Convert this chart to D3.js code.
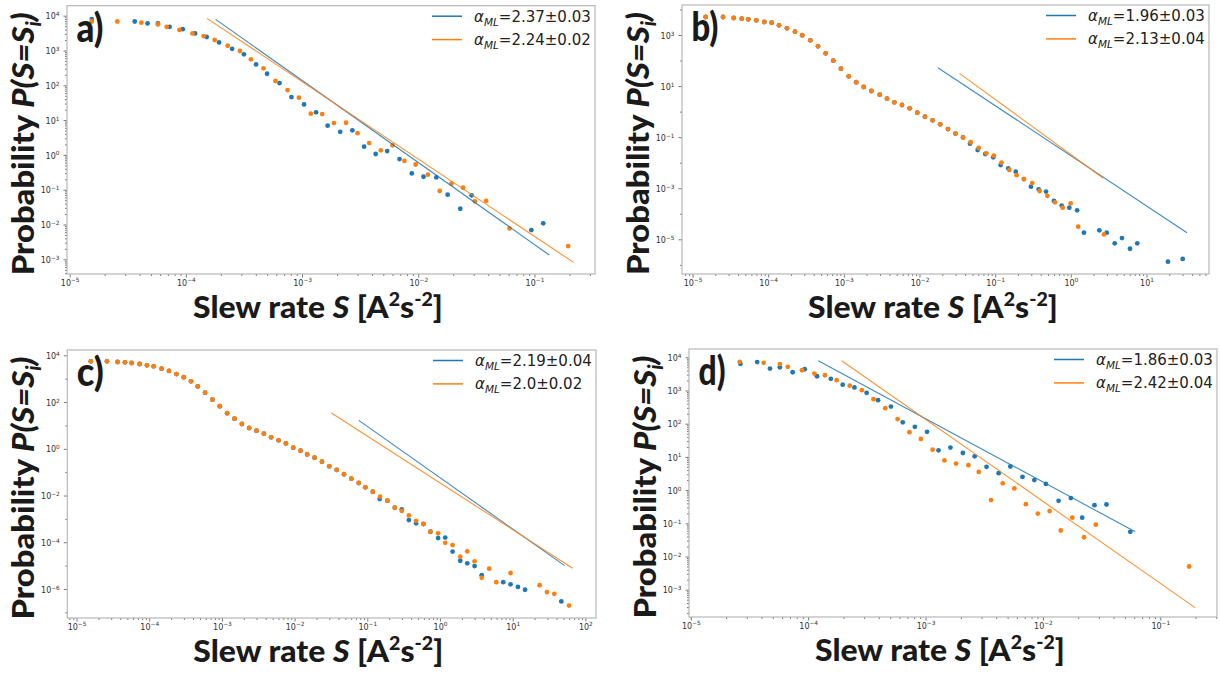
<!DOCTYPE html>
<html>
<head>
<meta charset="utf-8">
<script src="https://cdn.jsdelivr.net/npm/d3@7"></script>
<style>
    body { margin: 0; background: #fff; }
    svg { display: block; }
</style>
</head>
<body>
<div id="SlewCanvas"></div>
<script>
// [S, P] pairs (blue series, orange series)
const a_blue = [[1.55e-5,8.0e3],[3.63e-5,6.8e3],[4.68e-5,6.0e3],[5.75e-5,6.0e3],[7.24e-5,4.8e3],[9.4e-5,4.1e3],[1.2e-4,3.1e3],[1.51e-4,2.44e3],[1.93e-4,1.71e3],[2.5e-4,1.12e3],[3.16e-4,774],[4.02e-4,398],[5.0e-4,215],[6.4e-4,116],[8.1e-4,46],[1.04e-3,28.3],[1.32e-3,16.7],[1.66e-3,6.9],[2.13e-3,4.6],[2.71e-3,5.1],[3.42e-3,1.72],[4.3e-3,1.06],[5.4e-3,1.29],[6.9e-3,0.76],[8.8e-3,0.294],[1.11e-2,0.236],[1.43e-2,0.226],[1.79e-2,0.072],[2.3e-2,0.0284],[2.88e-2,0.069],[9.4e-2,0.0069],[0.119,0.0108]];
const a_orange = [[1.55e-5,6.8e3],[2.57e-5,6.8e3],[4.14e-5,6.3e3],[5.75e-5,5.6e3],[6.84e-5,4.8e3],[8.8e-5,3.9e3],[1.14e-4,3.1e3],[1.42e-4,2.6e3],[1.77e-4,2.0e3],[2.29e-4,1.37e3],[2.92e-4,966],[3.63e-4,556],[4.66e-4,307],[5.9e-4,133],[7.5e-4,73],[9.4e-4,44],[1.19e-3,15.3],[1.49e-3,14.9],[1.88e-3,8.2],[2.39e-3,8.4],[3.0e-3,4.2],[3.78e-3,2.19],[4.76e-3,1.35],[6.0e-3,1.88],[7.6e-3,0.67],[9.5e-3,0.53],[1.21e-2,0.27],[1.53e-2,0.092],[1.93e-2,0.149],[2.43e-2,0.114],[3.07e-2,0.046],[3.84e-2,0.048],[6.1e-2,0.0077],[0.195,0.0024]];

const b_blue = [[1.49e-5,5.07e3],[2.53e-5,5.07e3],[3.5e-5,4.63e3],[4.47e-5,4.37e3],[5.46e-5,4.11e3],[6.97e-5,3.76e3],[8.89e-5,3.23e3],[1.11e-4,3.03e3],[1.39e-4,2.4e3],[1.77e-4,1.82e3],[2.26e-4,1.35e3],[2.82e-4,977],[3.61e-4,617],[4.56e-4,361],[5.75e-4,192],[7.26e-4,98.6],[9.16e-4,47.9],[1.16e-3,24.2],[1.46e-3,14.1],[1.83e-3,9.2],[2.31e-3,6.41],[2.98e-3,4.6],[3.72e-3,3.21],[4.65e-3,2.32],[5.87e-3,1.82],[7.41e-3,1.35],[9.35e-3,0.908],[1.18e-2,0.631],[1.49e-2,0.457],[1.88e-2,0.318],[2.38e-2,0.207],[2.99e-2,0.138],[3.76e-2,0.0977],
    [4.65e-2,5.55e-2],[5.87e-2,3.14e-2],[7.4e-2,2.19e-2],[9.44e-2,1.62e-2],[0.118,8.1e-3],[0.149,6.0e-3],[0.187,4.47e-3],[0.240,2.29e-3],[0.297,1.15e-3],[0.376,9.1e-4],[0.470,7.4e-4],[0.598,3.16e-4],[0.757,2.09e-4],[0.955,1.74e-4],[1.21,1.36e-4],[1.49,1.82e-5],[2.38,2.24e-5],[2.98,1.82e-5],[3.8,6.97e-6],[4.74,1.12e-5],[6.05,4.27e-6],[7.55,6.97e-6],[19.2,1.33e-6],[30.1,1.7e-6]];
const b_orange = [[1.49e-5,5.07e3],[2.53e-5,5.07e3],[3.5e-5,4.63e3],[4.47e-5,4.37e3],[5.46e-5,4.11e3],[6.97e-5,3.76e3],[8.89e-5,3.23e3],[1.11e-4,3.03e3],[1.39e-4,2.4e3],[1.77e-4,1.82e3],[2.26e-4,1.35e3],[2.82e-4,977],[3.61e-4,617],[4.56e-4,361],[5.75e-4,192],[7.26e-4,98.6],[9.16e-4,47.9],[1.16e-3,24.2],[1.46e-3,14.1],[1.83e-3,9.2],[2.31e-3,6.41],[2.98e-3,4.6],[3.72e-3,3.21],[4.65e-3,2.32],[5.87e-3,1.82],[7.41e-3,1.35],[9.35e-3,0.908],[1.18e-2,0.631],[1.49e-2,0.457],[1.88e-2,0.318],[2.38e-2,0.207],[2.99e-2,0.138],[3.76e-2,0.0977],
    [4.74e-2,6.31e-2],[6.05e-2,3.76e-2],[7.64e-2,2.33e-2],[9.64e-2,1.88e-2],[0.121,1.0e-2],[0.154,5.18e-3],[0.192,3.24e-3],[0.240,2.29e-3],[0.309,1.6e-3],[0.387,7.8e-4],[0.489,5.0e-4],[0.618,2.82e-4],[0.78,1.74e-4],[0.995,2.57e-4],[1.25,3.13e-5],[2.74,1.55e-5]];

const c_blue = [[1.57e-5,5.53e3],[2.62e-5,5.53e3],[3.67e-5,5.16e3],[4.63e-5,5.01e3],[5.73e-5,4.68e3],[7.38e-5,4.25e3],[9.31e-5,3.73e3],[1.15e-4,3.39e3],[1.48e-4,2.69e3],[1.87e-4,2.14e3],[2.37e-4,1.58e3],[2.98e-4,1.15e3],[3.76e-4,771],[4.65e-4,468],[5.86e-4,251],[7.41e-4,126],[9.33e-4,66.1],[1.18e-3,33.1],[1.49e-3,19.4],[1.88e-3,11.5],[2.37e-3,7.74],[2.99e-3,5.93],[3.78e-3,4.42],[4.75e-3,3.09],[6.01e-3,2.29],[7.59e-3,1.70],[9.57e-3,1.11],[1.21e-2,0.832],[1.49e-2,0.575],[1.88e-2,0.417],[2.38e-2,0.28],[3.0e-2,0.178],[3.79e-2,0.124],[4.78e-2,8.13e-2],[6.03e-2,5.25e-2],[7.62e-2,3.43e-2],[9.4e-2,2.24e-2],[0.119,1.45e-2],
    [0.148,7.08e-3],[0.189,6.03e-3],[0.239,3.02e-3],[0.298,2.57e-3],[0.373,8.9e-4],[0.469,6.46e-4],[0.592,6.03e-4],[0.738,2.82e-4],[0.942,1.51e-4],[1.18,1.58e-4],[1.49,3.98e-5],[1.90,1.62e-5],[2.37,1.26e-5],[2.99,9.6e-6],[3.75,3.89e-6],[7.41,1.95e-6],[9.35,1.58e-6],[11.8,1.23e-6],[14.8,9.3e-7],[46.7,2.95e-7]];
const c_orange = [[1.57e-5,5.53e3],[2.62e-5,5.53e3],[3.67e-5,5.16e3],[4.63e-5,5.01e3],[5.73e-5,4.68e3],[7.38e-5,4.25e3],[9.31e-5,3.73e3],[1.15e-4,3.39e3],[1.48e-4,2.69e3],[1.87e-4,2.14e3],[2.37e-4,1.58e3],[2.98e-4,1.15e3],[3.76e-4,771],[4.65e-4,468],[5.86e-4,251],[7.41e-4,126],[9.33e-4,66.1],[1.18e-3,33.1],[1.49e-3,19.4],[1.88e-3,11.5],[2.37e-3,7.74],[2.99e-3,5.93],[3.78e-3,4.42],[4.75e-3,3.09],[6.01e-3,2.29],[7.59e-3,1.70],[9.57e-3,1.11],[1.21e-2,0.832],[1.49e-2,0.575],[1.88e-2,0.417],[2.38e-2,0.28],[3.0e-2,0.178],[3.79e-2,0.124],[4.78e-2,8.13e-2],[6.03e-2,5.25e-2],[7.62e-2,3.43e-2],[9.4e-2,2.24e-2],[0.119,1.45e-2],
    [0.15,8.91e-3],[0.189,6.03e-3],[0.239,3.02e-3],[0.298,2.19e-3],[0.373,1.41e-3],[0.469,8.3e-4],[0.592,6.03e-4],[0.738,2.82e-4],[0.942,2.4e-4],[1.18,9.5e-5],[1.49,7.6e-5],[1.90,2.41e-5],[2.37,4.1e-5],[2.99,1.53e-5],[3.75,3.02e-6],[4.75,7.4e-6],[5.94,1.95e-6],[9.35,4.84e-6],[23.5,1.45e-6],[29.6,7.4e-7],[37.4,6.2e-7],[59.6,1.95e-7]];

const d_blue = [[2.65e-5,6.31e3],[3.68e-5,7.16e3],[4.73e-5,4.57e3],[5.74e-5,5.01e3],[7.38e-5,3.55e3],[9.35e-5,4.37e3],[1.19e-4,2.69e3],[1.56e-4,2.24e3],[1.97e-4,1.5e3],[2.48e-4,1.24e3],[3.15e-4,851],[3.94e-4,513],[5.07e-4,327],[6.4e-4,110],[8.11e-4,80.4],[1.03e-3,57],[1.29e-3,15.8],[1.63e-3,19.1],[2.08e-3,13.1],[2.62e-3,10.4],[3.31e-3,5.01],[4.2e-3,3.23],[5.28e-3,5.14],[6.7e-3,2.5],[8.45e-3,2.01],[1.06e-2,1.53],[1.36e-2,0.476],[1.73e-2,0.575],[2.16e-2,0.148],[2.75e-2,0.351],[3.48e-2,0.368],[5.55e-2,5.55e-2]];
const d_orange = [[2.61e-5,7.31e3],[4.18e-5,6.82e3],[5.74e-5,6.24e3],[6.71e-5,5.18e3],[8.87e-5,4.07e3],[1.13e-4,3.24e3],[1.39e-4,2.88e3],[1.75e-4,2.04e3],[2.26e-4,1.4e3],[2.87e-4,1.02e3],[3.6e-4,547],[4.54e-4,293],[5.78e-4,138],[7.29e-4,55.5],[9.12e-4,34.8],[1.15e-3,16.5],[1.45e-3,7.85],[1.82e-3,6.31],[2.32e-3,5.62],[2.84e-3,3.53],[3.61e-3,0.501],[4.55e-3,1.6],[5.71e-3,1.12],[7.16e-3,0.376],[9.04e-3,0.196],[1.14e-2,0.234],[1.42e-2,6.07e-2],[1.78e-2,0.148],[2.24e-2,3.8e-2],[2.82e-2,9.12e-2],[0.176,5.0e-3]];

// fitted power laws: [S start, P start, S end, P end] for blue, orange
const a_fits = [[1.8e-4,7.85e3,0.134,1.33e-3],[1.52e-4,8.38e3,0.217,8.17e-4]];
const b_fits = [[1.75e-2,52.5,34.3,1.82e-5],[3.37e-2,31.6,2.69,2.45e-3]];
const c_fits = [[7.64e-2,16.5,51.8,1.0e-5],[3.21e-2,34.0,66.8,7.69e-6]];
const d_fits = [[1.22e-4,7.85e3,6.12e-2,5.55e-2],[1.93e-4,7.85e3,0.198,2.89e-4]];

const a_alpha = ['2.37±0.03', '2.24±0.02'];
const b_alpha = ['1.96±0.03', '2.13±0.04'];
const c_alpha = ['2.19±0.04', '2.0±0.02'];
const d_alpha = ['1.86±0.03', '2.42±0.04'];

const series_color = ['#1f77b4', '#ff7f0e'];

class SlewRatePanel {

    constructor(svg, box, blue, orange, fits, alpha){
        this.svg = svg;
        this.box = box;
        this.series = [blue, orange];
        this.fits = fits;
        this.alpha = alpha;
    }

    init(){
        let b = this.box;
        this.x = d3.scaleLog().domain([Math.pow(10, b.xdom[0]), Math.pow(10, b.xdom[1])]).range([b.left, b.right]);
        this.y = d3.scaleLog().domain([Math.pow(10, b.ydom[0]), Math.pow(10, b.ydom[1])]).range([b.top, b.bottom]);
        this.g = this.svg.append('g').attr('class', 'panel_' + b.name);
    }

    draw(){
        this.draw_axes();
        this.draw_points();
        this.draw_fits();
        this.draw_frame();
        this.draw_legend();
        this.draw_labels();
    }

    decades(lo, hi){
        return d3.range(Math.ceil(lo), Math.floor(hi) + 1);
    }

    minor_values(lo, hi){
        let out = [];
        for(let k = Math.floor(lo); k <= Math.ceil(hi); k++){
            for(let m = 2; m < 10; m++){
                let v = k + Math.log10(m);
                if(v >= lo && v <= hi) out.push(m * Math.pow(10, k));
            }
        }
        return out;
    }

    pow_label(sel){
        sel.each(function(d){
            let e = Math.round(Math.log10(d));
            let t = d3.select(this).text('');
            t.append('tspan').text('10');
            t.append('tspan').attr('dy', '-0.55em').attr('font-size', '5.8px')
                .text(e < 0 ? '\u2212' + (-e) : String(e));
        });
    }

    style_axis(g){
        g.select('.domain').remove();
        g.selectAll('.tick line').attr('stroke', '#555').attr('stroke-width', 0.8);
        g.selectAll('.tick text').attr('fill', '#333').attr('font-size', '8px')
            .attr('font-family', 'DejaVu Sans');
    }

    draw_axes(){
        let b = this.box;

        // x: major decades, minor 2..9
        let xmaj = this.decades(b.xdom[0], b.xdom[1]).map(e => Math.pow(10, e));
        let gx = this.g.append('g').attr('transform', 'translate(0,' + b.bottom + ')')
            .call(d3.axisBottom(this.x).tickValues(xmaj).tickSize(3.5).tickPadding(2.5));
        this.style_axis(gx);
        gx.selectAll('.tick text').call(this.pow_label);

        let gxm = this.g.append('g').attr('transform', 'translate(0,' + b.bottom + ')')
            .call(d3.axisBottom(this.x).tickValues(this.minor_values(b.xdom[0], b.xdom[1])).tickSize(2).tickFormat(''));
        this.style_axis(gxm);

        // y: labelled decades every ystride, the rest as minor ticks
        let ylo = b.ydom[1], yhi = b.ydom[0];
        let ydec = this.decades(ylo, yhi);
        let ymaj = ydec.filter(e => Math.abs(e) % b.ystride == b.yparity).map(e => Math.pow(10, e));
        let ymin = b.ystride == 1 ? this.minor_values(ylo, yhi)
            : ydec.filter(e => Math.abs(e) % b.ystride != b.yparity).map(e => Math.pow(10, e));

        let gy = this.g.append('g').attr('transform', 'translate(' + b.left + ',0)')
            .call(d3.axisLeft(this.y).tickValues(ymaj).tickSize(3.5).tickPadding(4));
        this.style_axis(gy);
        gy.selectAll('.tick text').attr('dy', '0.4em').call(this.pow_label);

        let gym = this.g.append('g').attr('transform', 'translate(' + b.left + ',0)')
            .call(d3.axisLeft(this.y).tickValues(ymin).tickSize(2).tickFormat(''));
        this.style_axis(gym);
    }

    draw_points(){
        this.series.forEach((pts, i)=>{
            this.g.append('g').selectAll('circle').data(pts).enter().append('circle')
                .attr('cx', d => this.x(d[0]))
                .attr('cy', d => this.y(d[1]))
                .attr('r', 2.4)
                .attr('fill', series_color[i]);
        });
    }

    draw_fits(){
        this.fits.forEach((f, i)=>{
            this.g.append('line')
                .attr('x1', this.x(f[0])).attr('y1', this.y(f[1]))
                .attr('x2', this.x(f[2])).attr('y2', this.y(f[3]))
                .attr('stroke', series_color[i])
                .attr('stroke-width', 1.1)
                .attr('stroke-opacity', 0.85);
        });
    }

    draw_frame(){
        let b = this.box;
        this.g.append('rect')
            .attr('x', b.left).attr('y', b.top)
            .attr('width', b.right - b.left).attr('height', b.bottom - b.top)
            .attr('fill', 'none')
            .attr('stroke', '#b8b8b8')
            .attr('stroke-width', 1.2);
    }

    draw_legend(){
        let b = this.box;
        let tx = b.right - 121;
        this.alpha.forEach((a, i)=>{
            let ly = b.top + 10.5 + 23.4 * i;
            this.g.append('line')
                .attr('x1', tx - 42).attr('x2', tx - 12)
                .attr('y1', ly).attr('y2', ly)
                .attr('stroke', series_color[i]).attr('stroke-width', 1.5);
            let t = this.g.append('text')
                .attr('x', tx).attr('y', ly + 5.5)
                .attr('font-family', 'DejaVu Sans').attr('font-size', '15px').attr('fill', '#222');
            t.append('tspan').attr('font-style', 'italic').text('\u03b1');
            t.append('tspan').attr('font-style', 'italic').attr('font-size', '10.5px').attr('dy', 4).text('ML');
            t.append('tspan').attr('dy', -4).text('=' + a);
        });
    }

    fit_width(text, target){
        let w = text.node().getBBox().width;
        return target / w;
    }

    draw_labels(){
        let b = this.box;
        let font = "Lato, 'Open Sans', sans-serif";

        // panel letter
        let pg = this.g.append('g');
        let pt = pg.append('text').text(b.name + ')')
            .attr('font-family', font).attr('font-weight', 900).attr('font-size', '39px').attr('fill', '#1a1a1a');
        pg.attr('transform', 'translate(' + (b.left + 9.5) + ',' + (b.top + 36) + ') scale(' + this.fit_width(pt, 27) + ',1)');

        // x title
        let xg = this.g.append('g');
        let xt = xg.append('text').attr('text-anchor', 'middle')
            .attr('font-family', font).attr('font-weight', 900).attr('font-size', '31px').attr('fill', '#1a1a1a');
        xt.append('tspan').text('Slew rate ');
        xt.append('tspan').attr('font-style', 'italic').text('S');
        xt.append('tspan').text(' [A');
        xt.append('tspan').attr('font-size', '19px').attr('dy', -12).text('2');
        xt.append('tspan').attr('dy', 12).text('s');
        xt.append('tspan').attr('font-size', '19px').attr('dy', -12).text('-2');
        xt.append('tspan').attr('dy', 12).text(']');
        xg.attr('transform', 'translate(' + (b.left + 251) + ',' + (b.bottom + 44) + ') scale(' + this.fit_width(xt, 250) + ',1)');

        // y title
        let yg = this.g.append('g');
        let yt = yg.append('text').attr('text-anchor', 'middle')
            .attr('font-family', font).attr('font-weight', 900).attr('font-size', '31px').attr('fill', '#1a1a1a');
        yt.append('tspan').text('Probability ');
        yt.append('tspan').attr('font-style', 'italic').text('P(S=S');
        yt.append('tspan').attr('font-style', 'italic').attr('font-size', '20px').attr('dy', 7).text('i');
        yt.append('tspan').attr('font-style', 'italic').attr('dy', -7).text(')');
        let cy = (b.top + b.bottom) / 2 + 4;
        yg.attr('transform', 'translate(' + (b.left - 33) + ',' + cy + ') rotate(-90) scale(' + this.fit_width(yt, 263) + ',1)');
    }
}

const svg = d3.select('#SlewCanvas').append('svg')
    .attr('width', 1220)
    .attr('height', 678);

const boxes = [
    {name: 'a', left: 67, right: 595, top: 5.7, bottom: 274, xdom: [-5.023, -0.479], ydom: [4.287, -3.422], ystride: 1, yparity: 0},
    {name: 'b', left: 682, right: 1209, top: 5, bottom: 274, xdom: [-5.139, 1.826], ydom: [4.175, -6.358], ystride: 2, yparity: 1},
    {name: 'c', left: 67.3, right: 596, top: 350, bottom: 618, xdom: [-5.127, 2.146], ydom: [4.227, -7.241], ystride: 2, yparity: 0},
    {name: 'd', left: 689, right: 1217, top: 349, bottom: 617, xdom: [-5.015, -0.517], ydom: [4.25, -3.822], ystride: 1, yparity: 0}
];

const panels = [
    new SlewRatePanel(svg, boxes[0], a_blue, a_orange, a_fits, a_alpha),
    new SlewRatePanel(svg, boxes[1], b_blue, b_orange, b_fits, b_alpha),
    new SlewRatePanel(svg, boxes[2], c_blue, c_orange, c_fits, c_alpha),
    new SlewRatePanel(svg, boxes[3], d_blue, d_orange, d_fits, d_alpha)
];

panels.forEach(p => { p.init(); p.draw(); });
</script>
</body>
</html>
